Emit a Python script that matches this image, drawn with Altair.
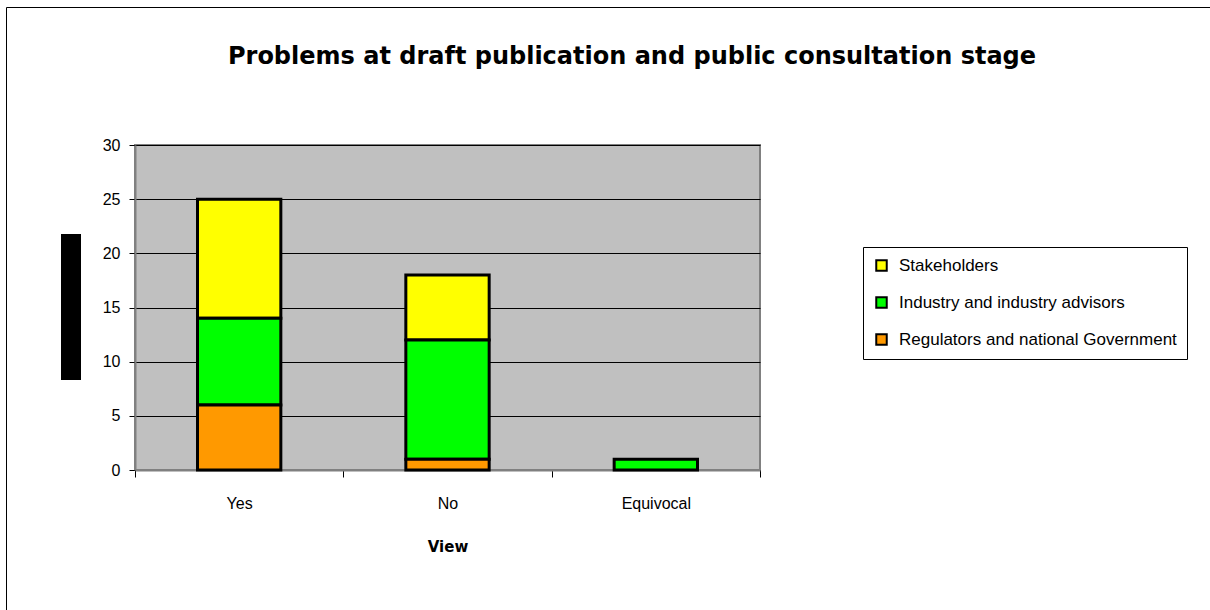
import altair as alt
import pandas as pd

views = ["Yes", "No", "Equivocal"]
groups = ["Stakeholders", "Industry and industry advisors", "Regulators and national Government"]
stakeholders = [11, 6, 0]
industry = [8, 11, 1]
regulators = [6, 1, 0]
colors = ["#FFFF00", "#00FF00", "#FF9900"]
stack_rank = [2, 1, 0]  # regulators at the bottom of each stack
y_ticks = [0, 5, 10, 15, 20, 25, 30]

rows = []
for g, vals, r in zip(groups, [stakeholders, industry, regulators], stack_rank):
    for v, n in zip(views, vals):
        if n > 0:
            rows.append({"View": v, "Group": g, "Count": n, "rank": r})
df = pd.DataFrame(rows)

bars = alt.Chart(df).mark_bar(
    stroke="black", strokeWidth=3, strokeJoin="miter", width=alt.RelativeBandSize(0.4)
).encode(
    x=alt.X(
        "View:N", sort=views,
        scale=alt.Scale(paddingInner=0, paddingOuter=0),
        axis=alt.Axis(
            title="View", labelAngle=0, tickBand="extent", grid=False,
            tickSize=7, tickColor="black", domainColor="#808080", domainWidth=2,
            labelPadding=18, titlePadding=28, titleFont="DejaVu Sans",
            titleFontSize=15, titleFontWeight="bold",
        ),
    ),
    y=alt.Y(
        "Count:Q", stack="zero",
        scale=alt.Scale(domain=[0, 30], nice=False),
        axis=alt.Axis(
            title=None, values=y_ticks, grid=True, gridColor="black", gridWidth=1,
            gridOpacity=1, tickSize=6, tickColor="black", domainColor="#808080",
            domainWidth=2, labelPadding=9,
        ),
    ),
    color=alt.Color(
        "Group:N",
        scale=alt.Scale(domain=groups, range=colors),
        legend=alt.Legend(
            title=None, orient="none", legendX=728, legendY=102, direction="vertical",
            symbolType="square", symbolSize=110, symbolStrokeColor="black",
            symbolStrokeWidth=2, labelFont="Liberation Sans", labelFontSize=17,
            labelColor="black", rowPadding=18, padding=10, strokeColor="black",
            fillColor="white", labelOffset=9, labelLimit=500,
        ),
    ),
    order=alt.Order("rank:Q", sort="ascending"),
)

frame = alt.Chart(alt.Data(values=[{}])).mark_rect(
    fillOpacity=0, stroke="black", strokeWidth=1
).encode(
    x=alt.value(-128.5), x2=alt.value(1200), y=alt.value(-137.5), y2=alt.value(600)
)

ybox = alt.Chart(alt.Data(values=[{}])).mark_rect(color="black").encode(
    x=alt.value(-74), x2=alt.value(-54), y=alt.value(89), y2=alt.value(235)
)

chart = alt.layer(frame, ybox, bars).properties(
    width=625,
    height=325,
    background="white",
    autosize=alt.AutoSizeParams(type="none"),
    padding={"left": 135, "top": 145, "right": 450, "bottom": 140},
    title=alt.TitleParams(
        text="Problems at draft publication and public consultation stage",
        font="DejaVu Sans", fontSize=24, fontWeight="bold", color="black",
        anchor="middle", frame="group", dx=184.5, offset=-81, baseline="alphabetic",
    ),
).configure_view(
    fill="#C0C0C0", stroke="#808080", strokeWidth=2
).configure_axis(
    labelFont="Liberation Sans", labelFontSize=16, labelColor="black", titleColor="black"
)

chart.save("out.html", embed_options={"renderer": "svg", "actions": False})
